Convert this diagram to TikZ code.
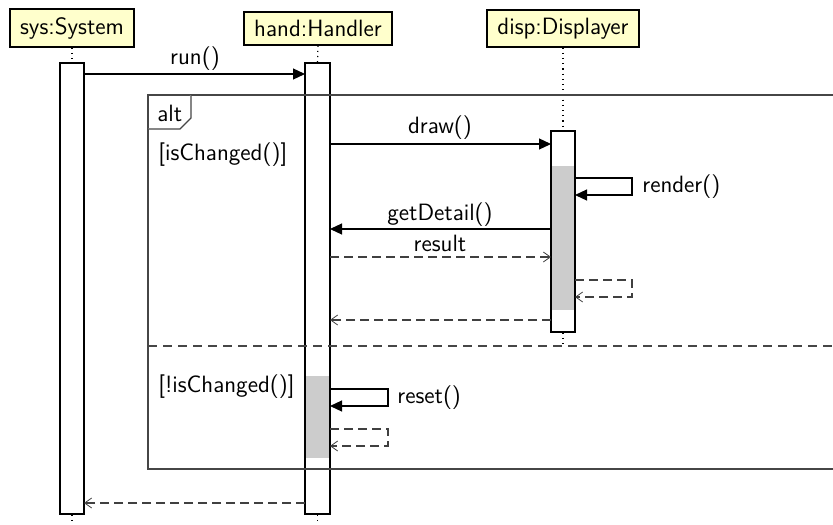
\documentclass[tikz,border=0pt]{standalone}
\usetikzlibrary{arrows.meta}
\definecolor{headfill}{RGB}{255,255,204}
\definecolor{busygray}{RGB}{204,204,204}
\definecolor{framecol}{RGB}{70,70,70}
\begin{document}
\begin{tikzpicture}[x=0.5pt,y=-0.5pt,
  font=\sffamily\fontsize{11.8}{14}\selectfont,
  head/.style={draw, fill=headfill, line width=0.6pt, inner sep=0pt},
  actbox/.style={draw, fill=white, line width=0.6pt, inner sep=0pt, minimum width=12pt},
  busy/.style={fill=busygray, draw=none, inner sep=0pt, minimum width=11.4pt},
  life/.style={dotted, line width=0.6pt},
  call/.style={line width=0.6pt, -{Triangle[length=6pt,width=5.5pt]}},
  ret/.style={dashed, dash pattern=on 4.5pt off 2.5pt, line width=0.55pt, draw=black!75,
    -{Straight Barb[length=3.5pt,width=5pt,line width=0.4pt]}},
  lbl/.style={inner sep=0pt},
  frm/.style={draw=framecol, line width=0.65pt}]

\useasboundingbox (0,0) rectangle (833,524);

% headers
\node[head, minimum width=62pt, minimum height=19pt] (sys) at (72,28) {sys:System};
\node[head, minimum width=74pt, minimum height=16.5pt] (hand) at (318,28.5) {hand:Handler};
\node[head, minimum width=76pt, minimum height=18.5pt] (disp) at (563,28.5) {disp:Displayer};

% activation boxes
\node[actbox, minimum height=225.5pt] (sysact) at (72,288.5) {};
\node[actbox, minimum width=12.5pt, minimum height=225.5pt] (handact) at (317.5,288.5) {};
\node[actbox, minimum height=100.5pt] (dispact) at (563,231.5) {};
\node[busy, minimum height=72pt] (dispbusy) at (563,238) {};
\node[busy, minimum width=11.9pt, minimum height=41pt] (handbusy) at (317.5,417) {};

% lifelines
\coordinate (sysend) at (72,524);
\coordinate (handend) at (317.5,524);
\coordinate (dispend) at (563,346);
\draw[life] (sys.south) -- (sysact.north);
\draw[life] (sysact.south) -- (sysend);
\draw[life] (hand.south) -- (handact.north);
\draw[life] (handact.south) -- (handend);
\draw[life] (disp.south) -- (dispact.north);
\draw[life] (dispact.south) -- (dispend);

% alt frame
\coordinate (ftr) at (833,95);
\coordinate (ftl) at (148,95);
\coordinate (fbl) at (148,469);
\coordinate (fbr) at (833,469);
\draw[frm] (ftr) -- (ftl) -- (fbl) -- (fbr);
\coordinate (tagA) at (191,95);
\coordinate (tagB) at (191,118);
\coordinate (tagC) at (180,129);
\coordinate (tagD) at (148,129);
\draw[frm, fill=white] (tagA) -- (tagB) -- (tagC) -- (tagD);
\node[lbl, anchor=base west] (alt) at (157,121) {alt};
\coordinate (sepL) at (148,346);
\coordinate (sepR) at (833,346);
\draw[frm, dashed, dash pattern=on 4.5pt off 3pt] (sepL) -- (sepR);
\node[lbl, anchor=base west] (g1) at (158,160) {[isChanged()]};
\node[lbl, anchor=base west] (g2) at (158,392) {[!isChanged()]};

% run()
\coordinate (m1s) at (84,74);
\coordinate (m1e) at (305,74);
\draw[call] (m1s) -- (m1e);
\node[lbl, anchor=base] (l1) at (195,65) {run()};

% draw()
\coordinate (m2s) at (330,144);
\coordinate (m2e) at (551,144);
\draw[call] (m2s) -- (m2e);
\node[lbl, anchor=base] (l2) at (440,133) {draw()};

% render()
\coordinate (m3a) at (575,178);
\coordinate (m3b) at (632,178);
\coordinate (m3c) at (632,195);
\coordinate (m3d) at (575,195);
\draw[call] (m3a) -- (m3b) -- (m3c) -- (m3d);
\node[lbl, anchor=base west] (l3) at (642,192) {render()};

% getDetail()
\coordinate (m4s) at (551,229);
\coordinate (m4e) at (330,229);
\draw[call] (m4s) -- (m4e);
\node[lbl, anchor=base] (l4) at (440,220) {getDetail()};

% result
\coordinate (m5s) at (330,257);
\coordinate (m5e) at (551,257);
\draw[ret] (m5s) -- (m5e);
\node[lbl, anchor=base] (l5) at (440,251) {result};

% render return
\coordinate (m6a) at (575,280);
\coordinate (m6b) at (632,280);
\coordinate (m6c) at (632,297);
\coordinate (m6d) at (575,297);
\draw[ret] (m6a) -- (m6b) -- (m6c) -- (m6d);

% draw return
\coordinate (m7s) at (551,320);
\coordinate (m7e) at (330,320);
\draw[ret] (m7s) -- (m7e);

% reset()
\coordinate (m8a) at (330,389);
\coordinate (m8b) at (388,389);
\coordinate (m8c) at (388,406);
\coordinate (m8d) at (330,406);
\draw[call] (m8a) -- (m8b) -- (m8c) -- (m8d);
\node[lbl, anchor=base west] (l8) at (397,403) {reset()};

% reset return
\coordinate (m9a) at (330,429);
\coordinate (m9b) at (388,429);
\coordinate (m9c) at (388,446);
\coordinate (m9d) at (330,446);
\draw[ret] (m9a) -- (m9b) -- (m9c) -- (m9d);

% run return
\coordinate (m10s) at (305,503);
\coordinate (m10e) at (84,503);
\draw[ret] (m10s) -- (m10e);
\end{tikzpicture}
\end{document}
